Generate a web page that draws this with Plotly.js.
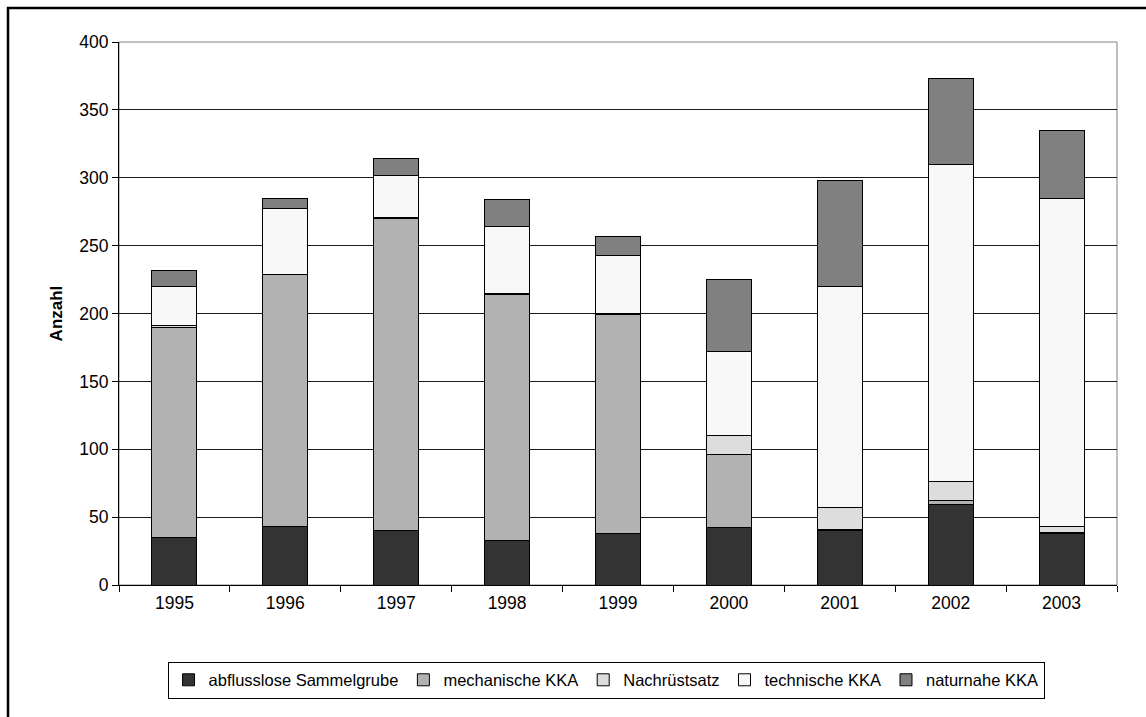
<!DOCTYPE html>
<html>
<head>
<meta charset="utf-8">
<script src="https://cdn.plot.ly/plotly-3.0.1.min.js"></script>
<style>
  html, body { margin: 0; padding: 0; background: #fff; }
  #chart { width: 1146px; height: 717px; }
</style>
</head>
<body>
<div id="chart"></div>
<script>
const years = ['1995','1996','1997','1998','1999','2000','2001','2002','2003'];
const seriesNames = ['abflusslose Sammelgrube','mechanische KKA','Nachrüstsatz','technische KKA','naturnahe KKA'];
const abflusslose = [35, 43, 40, 33, 38, 42, 40, 59, 38];
const mechanische = [155, 186, 230, 181, 161, 54, 1, 3, 1];
const nachruestsatz = [1, 0, 1, 1, 1, 14, 16, 14, 4];
const technische = [29, 48, 31, 49, 43, 62, 163, 234, 242];
const naturnahe = [12, 8, 12, 20, 14, 53, 78, 63, 50];
const yTicks = [0, 50, 100, 150, 200, 250, 300, 350, 400];

const colors = ['#333333', '#b2b2b2', '#dddddd', '#f8f8f8', '#808080'];
const values = [abflusslose, mechanische, nachruestsatz, technische, naturnahe];

const traces = values.map((v, i) => ({
  type: 'bar',
  name: seriesNames[i],
  x: years,
  y: v,
  marker: { color: colors[i], line: { color: '#000', width: 1 } },
  hoverinfo: 'x+y+name'
}));

const fam = 'Liberation Sans, Arial, sans-serif';
const tickFont = { family: fam, size: 17.5, color: '#000' };

const layout = {
  width: 1146, height: 717,
  margin: { l: 119, r: 29, t: 42, b: 132 },
  paper_bgcolor: '#fff', plot_bgcolor: '#fff',
  barmode: 'stack',
  bargap: 0.595,
  font: tickFont,
  showlegend: true,
  legend: {
    orientation: 'h', traceorder: 'normal',
    x: 0.488, xanchor: 'center', y: -0.141, yanchor: 'top',
    bordercolor: '#000', borderwidth: 1,
    font: { family: fam, size: 16.5, color: '#000' },
    itemwidth: 30, tracegroupgap: 0
  },
  xaxis: {
    type: 'category',
    showgrid: false,
    showline: true, linecolor: '#000', linewidth: 1,
    ticks: 'outside', tickson: 'boundaries', ticklen: 6, tickcolor: '#000',
    tickfont: tickFont, ticklabelstandoff: 2,
    zeroline: false
  },
  yaxis: {
    range: [0, 400],
    tickvals: yTicks,
    ticktext: yTicks.map(String),
    showgrid: true, gridcolor: '#1a1a1a', gridwidth: 1,
    showline: true, linecolor: '#000', linewidth: 1,
    ticks: 'outside', ticklen: 6, tickcolor: '#000',
    tickfont: tickFont,
    zeroline: false,
    title: { text: '<b>Anzahl</b>', font: { family: fam, size: 17, color: '#000' }, standoff: 12 }
  },
  shapes: [
    { type: 'rect', xref: 'paper', yref: 'paper', x0: 0, x1: 1, y0: 0, y1: 1,
      line: { color: '#808080', width: 1 }, fillcolor: 'rgba(0,0,0,0)', layer: 'below' },
    { type: 'rect', xref: 'paper', yref: 'paper', x0: -0.1112, x1: 1.1, y0: -0.3, y1: 1.0626,
      line: { color: '#000', width: 2.5 }, fillcolor: 'rgba(0,0,0,0)', layer: 'above' }
  ]
};

Plotly.newPlot('chart', traces, layout, { displayModeBar: false, staticPlot: true });
</script>
</body>
</html>
